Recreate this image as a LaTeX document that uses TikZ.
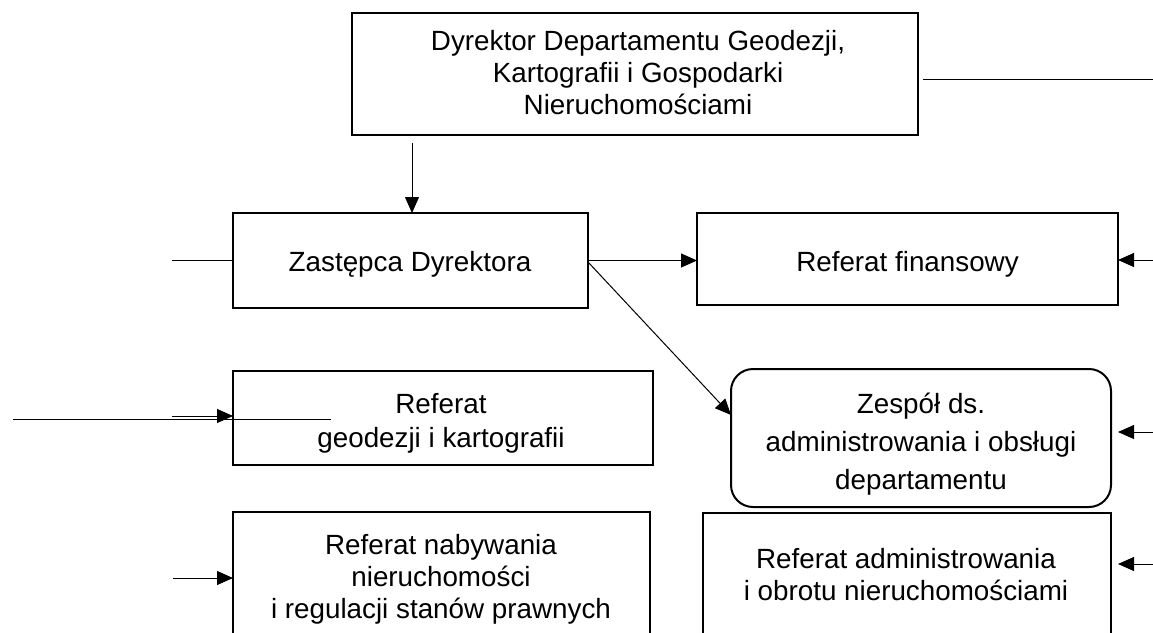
\documentclass[tikz,border=0pt]{standalone}
\usepackage{fontspec}
\setmainfont{Liberation Sans}
\usetikzlibrary{arrows.meta}
\begin{document}
\begin{tikzpicture}[x=1pt,y=-1pt,
  boxn/.style={draw, line width=2pt, inner sep=0pt, outer sep=0pt},
  txt/.style={inner sep=0pt, align=center, font=\fontsize{27.8}{32}\selectfont},
  ln/.style={line width=1pt},
  arr/.style={line width=1pt, -{Triangle[length=16pt,width=14pt]}}]
\useasboundingbox (0,0) rectangle (1153,632);
\fill[white] (0,0) rectangle (1153,632);
% boxes
\node[boxn, minimum width=566pt, minimum height=122pt] (top) at (635,74) {};
\node[boxn, minimum width=355pt, minimum height=95pt] (zast) at (410.5,260.5) {};
\node[boxn, minimum width=421pt, minimum height=92pt] (fin) at (907.5,259) {};
\node[boxn, minimum width=420pt, minimum height=94pt] (geo) at (443,418) {};
\node[boxn, rounded corners=22pt, minimum width=380pt, minimum height=138pt] (zesp) at (921,438) {};
\node[boxn, minimum width=417pt, minimum height=140pt] (nab) at (441.5,582) {};
\node[boxn, minimum width=408pt, minimum height=140pt] (adm) at (907,583) {};
% texts
\node[txt] (topT) at (638,73) {Dyrektor Departamentu Geodezji,\\Kartografii i Gospodarki\\Nieruchomościami};
\node[txt] (zastT) at (410,264.5) {Zastępca Dyrektora};
\node[txt] (finT) at (907.5,264.5) {Referat finansowy};
\node[txt, font=\fontsize{27.8}{34}\selectfont] (geoT) at (441,423) {Referat\\geodezji i kartografii};
\node[txt, font=\fontsize{27.8}{38}\selectfont] (zespT) at (921,444) {Zespół ds.\\administrowania i obsługi\\departamentu};
\node[txt] (nabT) at (441,579.5) {Referat nabywania\\nieruchomości\\i regulacji stanów prawnych};
\node[txt] (admT) at (906,575) {Referat administrowania\\i obrotu nieruchomościami};
% connector end points
\coordinate (a1) at (412,143);
\coordinate (r0) at (1153,79);
\coordinate (zL) at (172,260);
\coordinate (r1) at (1153,260);
\coordinate (r2) at (1153,432);
\coordinate (r3) at (1153,564);
\coordinate (g1) at (13,419);
\coordinate (g2) at (331,419);
\coordinate (g3) at (172,416);
\coordinate (n1) at (173,578);
% connectors
\draw[arr] (a1) -- (a1 |- zast.north);
\draw[ln] ([xshift=5pt]top.east |- r0) -- (r0);
\draw[ln] (zL) -- (zL -| zast.west);
\draw[arr] (zast.east) -- (zast.east -| fin.west);
\draw[arr] ([yshift=-1.5pt]zast.east) -- ([yshift=23pt]zesp.west);
\draw[arr] (r1) -- (r1 -| fin.east);
\draw[arr, shorten >=7pt] (r2) -- (r2 -| zesp.east);
\draw[arr, shorten >=7pt] (r3) -- (r3 -| adm.east);
\draw[ln] (g1) -- (g2);
\draw[arr] (g3) -- (g3 -| geo.west);
\draw[arr] (n1) -- (n1 -| nab.west);
\end{tikzpicture}
\end{document}
